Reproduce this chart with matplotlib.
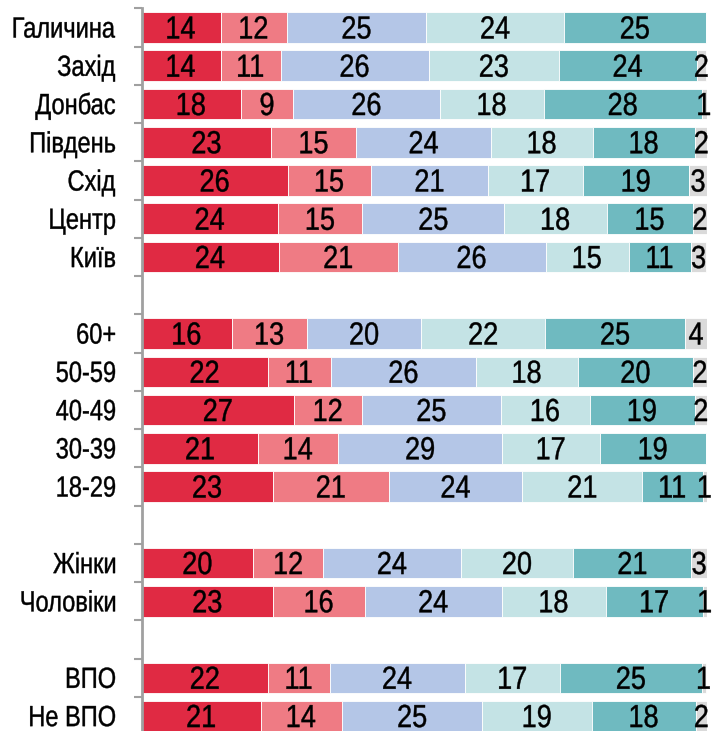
import numpy as np
import matplotlib
matplotlib.use("Agg")
import matplotlib.pyplot as plt
from matplotlib.font_manager import FontProperties
from matplotlib.textpath import TextPath
from matplotlib.patches import PathPatch
from matplotlib.transforms import Affine2D

# rows top to bottom, None marks an empty gap row
categories = ["Галичина", "Захід", "Донбас", "Південь", "Схід", "Центр", "Київ", None,
              "60+", "50-59", "40-49", "30-39", "18-29", None,
              "Жінки", "Чоловіки", None,
              "ВПО", "Не ВПО"]

# share of answers per segment (%)
seg_red = [14.0, 14.0, 17.6, 23.0, 25.9, 24.2, 24.3, 16.0, 22.3, 27.0, 20.7, 23.2, 19.8, 23.3, 22.4, 21.1]
seg_pink = [11.7, 10.6, 9.2, 15.0, 14.7, 14.9, 21.0, 13.3, 11.2, 12.0, 14.1, 20.6, 12.4, 16.2, 10.9, 14.4]
seg_blue = [24.7, 26.2, 26.0, 23.9, 20.7, 25.1, 26.2, 20.2, 25.7, 24.6, 29.0, 23.6, 24.3, 24.3, 23.9, 24.8]
seg_light = [24.4, 23.1, 18.4, 17.9, 16.8, 18.1, 14.7, 21.9, 18.0, 15.7, 17.3, 21.2, 19.9, 18.3, 16.9, 19.4]
seg_teal = [25.0, 24.3, 27.9, 18.2, 18.8, 15.3, 11.0, 24.8, 20.4, 18.6, 18.8, 10.7, 20.9, 17.3, 25.0, 18.4]
seg_gray = [0.0, 1.7, 0.9, 2.1, 3.1, 2.4, 2.7, 3.8, 2.4, 2.1, 0.0, 0.7, 2.7, 0.6, 0.8, 1.9]

series = [seg_red, seg_pink, seg_blue, seg_light, seg_teal, seg_gray]
colors = ["#E02A43", "#EF7B84", "#B4C6E7", "#C4E3E5", "#6FBAC0", "#DADADA"]

W, H = 712, 731
DPI = 100
FONT = FontProperties(family="Liberation Sans")


def narrow_text(ax, x_px, y_px, s, size, ha="center", squeeze=0.8):
    """Draw s as a horizontally squeezed path, centred on cap height at (x_px, y_px)."""
    tp = TextPath((0, 0), s, size=size, prop=FONT)
    ext = tp.get_extents()
    cap = TextPath((0, 0), "H", size=size, prop=FONT).get_extents()
    k = DPI / 72.0
    if ha == "center":
        x0 = (ext.x0 + ext.x1) / 2
    elif ha == "right":
        x0 = ext.x1
    else:
        x0 = ext.x0
    tr = (Affine2D().translate(-x0, -(cap.y0 + cap.y1) / 2)
          .scale(squeeze * k, k).translate(x_px, y_px))
    ax.add_patch(PathPatch(tp, transform=tr, facecolor="black", edgecolor="black",
                           linewidth=0.3, clip_on=False))


fig = plt.figure(figsize=(W / DPI, H / DPI), dpi=DPI)
ax = fig.add_axes([141.5 / W, 0, 565.2 / W, (H - 8.4) / H])

rows = [i for i, c in enumerate(categories) if c is not None]
labels = [c for c in categories if c is not None]
y = np.array(rows)

ax.set_xlim(0, 100)
ax.set_ylim(18.39, -0.5)

left = np.zeros(len(rows))
texts = []
for vals, col in zip(series, colors):
    vals = np.array(vals)
    ax.barh(y, vals, left=left, height=0.8, color=col, edgecolor="white", linewidth=0.6)
    for yi, l, v in zip(y, left, vals):
        if v >= 0.5:
            texts.append((l + v / 2, yi, f"{v:.0f}"))
    left += vals

for xv, yv, s in texts:
    px, py = ax.transData.transform((xv, yv))
    narrow_text(ax, px, py, s, 23, squeeze=0.85)

for yi, lab in zip(y, labels):
    _, py = ax.transData.transform((0, yi))
    narrow_text(ax, 115, py, lab, 21, ha="right", squeeze=0.81)

ax.set_yticks([])
ax.set_yticks(np.arange(-0.5, 18.0, 1.0), minor=True)
ax.tick_params(axis="y", which="minor", length=6, width=1.5, color="#a0a0a0",
               direction="out", labelleft=False)
ax.set_xticks([])

for s in ["top", "right", "bottom"]:
    ax.spines[s].set_visible(False)
ax.spines["left"].set_color("#a0a0a0")
ax.spines["left"].set_linewidth(2)

fig.savefig("out.png", dpi=DPI)
